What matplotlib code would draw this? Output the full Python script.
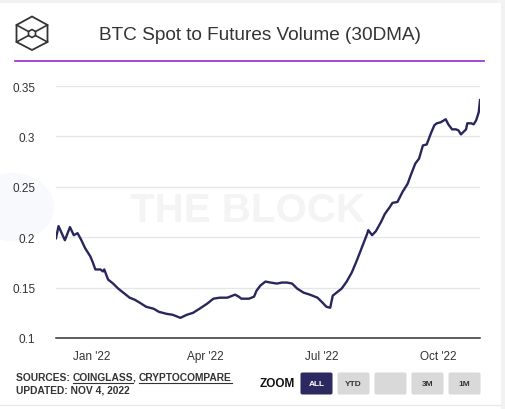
import matplotlib
matplotlib.use('Agg')
import matplotlib.pyplot as plt
import pandas as pd
from matplotlib.patches import Rectangle, FancyBboxPatch, Circle, Polygon
from matplotlib.lines import Line2D

# ---------------- data ----------------
dates = [
    '2021-12-04', '2021-12-06', '2021-12-11', '2021-12-15', '2021-12-18', '2021-12-21',
    '2021-12-24', '2021-12-27', '2021-12-29', '2021-12-31', '2022-01-02', '2022-01-04',
    '2022-01-08', '2022-01-10', '2022-01-11', '2022-01-14', '2022-01-18', '2022-01-22',
    '2022-01-27', '2022-01-31', '2022-02-04', '2022-02-08', '2022-02-13', '2022-02-19',
    '2022-02-23', '2022-03-01', '2022-03-06', '2022-03-12', '2022-03-17', '2022-03-22',
    '2022-03-27', '2022-04-02', '2022-04-07', '2022-04-12', '2022-04-18', '2022-04-20',
    '2022-04-24', '2022-04-27', '2022-04-29', '2022-05-05', '2022-05-09', '2022-05-11',
    '2022-05-14', '2022-05-18', '2022-05-22', '2022-05-27', '2022-05-31', '2022-06-04',
    '2022-06-08', '2022-06-12', '2022-06-17', '2022-06-22', '2022-06-28', '2022-07-02',
    '2022-07-05', '2022-07-08', '2022-07-10', '2022-07-13', '2022-07-17', '2022-07-21',
    '2022-07-25', '2022-07-29', '2022-08-02', '2022-08-06', '2022-08-07', '2022-08-10',
    '2022-08-13', '2022-08-17', '2022-08-20', '2022-08-24', '2022-08-26', '2022-08-30',
    '2022-09-03', '2022-09-07', '2022-09-09', '2022-09-13', '2022-09-16', '2022-09-19',
    '2022-09-22', '2022-09-25', '2022-09-28', '2022-09-30', '2022-10-03', '2022-10-07',
    '2022-10-09', '2022-10-12', '2022-10-15', '2022-10-17', '2022-10-19', '2022-10-23',
    '2022-10-24', '2022-10-27', '2022-10-29', '2022-10-31', '2022-11-02', '2022-11-03',
]
values = [
    0.199, 0.211, 0.197, 0.210, 0.202, 0.204,
    0.197, 0.189, 0.185, 0.181, 0.175, 0.168,
    0.168, 0.166, 0.168, 0.158, 0.154, 0.149,
    0.144, 0.140, 0.138, 0.135, 0.131, 0.129,
    0.126, 0.124, 0.123, 0.120, 0.123, 0.125,
    0.129, 0.134, 0.139, 0.140, 0.140, 0.141,
    0.143, 0.141, 0.139, 0.139, 0.141, 0.147,
    0.152, 0.156, 0.155, 0.154, 0.155, 0.155,
    0.154, 0.149, 0.145, 0.143, 0.140, 0.135,
    0.131, 0.130, 0.142, 0.145, 0.149, 0.156,
    0.165, 0.177, 0.190, 0.203, 0.207, 0.202,
    0.206, 0.215, 0.223, 0.230, 0.234, 0.235,
    0.245, 0.253, 0.260, 0.273, 0.278, 0.291,
    0.292, 0.302, 0.311, 0.313, 0.314, 0.317,
    0.312, 0.307, 0.307, 0.306, 0.302, 0.307,
    0.313, 0.313, 0.312, 0.316, 0.324, 0.336,
]
y_ticks = [0.1, 0.15, 0.2, 0.25, 0.3, 0.35]
y_tick_labels = ['0.1', '0.15', '0.2', '0.25', '0.3', '0.35']
x_ticks = ['2022-01-01', '2022-04-01', '2022-07-01', '2022-10-01']
x_tick_labels = ["Jan '22", "Apr '22", "Jul '22", "Oct '22"]
buttons = ['ALL', 'YTD', '', '3M', '1M']
title = 'BTC Spot to Futures Volume (30DMA)'

# ---------------- figure ----------------
W, H = 506, 410
fig = plt.figure(figsize=(W / 100, H / 100), dpi=100)
fig.patch.set_facecolor('white')
FONT = 'Liberation Sans'


def fx(x):
    return x / W


def fy(y):
    return 1 - y / H


# page frame strips
fig.patches.append(Rectangle((0, fy(4)), 1, 4 / H, transform=fig.transFigure,
                             facecolor='#f2f2f2', edgecolor='none', zorder=-2))
fig.patches.append(Rectangle((fx(501), 0), 5 / W, 1, transform=fig.transFigure,
                             facecolor='#f2f2f2', edgecolor='none', zorder=-2))
fig.add_artist(Line2D([0, fx(501)], [fy(406), fy(406)], transform=fig.transFigure,
                      color='#e8e8e8', lw=1, zorder=-2))

# faint watermark blob and text
fig.patches.append(Circle((fx(12), fy(208)), 42 / W, transform=fig.transFigure,
                          facecolor='#f7f9fc', edgecolor='none', zorder=-1))
fig.text(fx(248), fy(211), 'THE BLOCK', fontsize=29, fontweight='bold',
         family=FONT, color='#f4f4f4', ha='center', va='center', zorder=-1)

# logo (cube outline)
hexpts = [(32, 17.5), (47.5, 26), (47.5, 43), (32, 51), (16.5, 43), (16.5, 26)]
fig.patches.append(Polygon([(fx(a), fy(b)) for a, b in hexpts], closed=True,
                           transform=fig.transFigure, fill=False,
                           edgecolor='#333333', lw=1.3))
inner = [(32, 30.5), (35.5, 32.5), (35.5, 36.5), (32, 38.5), (28.5, 36.5), (28.5, 32.5)]
fig.patches.append(Polygon([(fx(a), fy(b)) for a, b in inner], closed=True,
                           transform=fig.transFigure, fill=False,
                           edgecolor='#333333', lw=1.2))
for (a, b), (c, d) in [((16.5, 26), (28.5, 32.5)), ((47.5, 26), (35.5, 32.5)),
                       ((16.5, 43), (28.5, 36.5)), ((47.5, 43), (35.5, 36.5))]:
    fig.add_artist(Line2D([fx(a), fx(c)], [fy(b), fy(d)], transform=fig.transFigure,
                          color='#333333', lw=1.2))

# title and purple rule
fig.text(fx(259.5), fy(36), title, fontsize=13.7, family=FONT, color='#333333',
         ha='center', va='center')
fig.add_artist(Line2D([fx(15), fx(484)], [fy(62), fy(62)], transform=fig.transFigure,
                      color='#9b27c9', lw=1.2))

# ---------------- axes ----------------
ax = fig.add_axes([fx(56), fy(339), (480 - 56) / W, (339 - 87) / H])
ax.set_facecolor('none')
x = pd.to_datetime(dates)
ax.plot(x, values, color='#29265c', lw=1.7, solid_joinstyle='round', zorder=3)
ax.set_xlim(x[0], x[-1])
ax.set_ylim(0.1, 0.35)
ax.set_yticks(y_ticks)
ax.set_yticklabels(y_tick_labels)
ax.set_xticks(pd.to_datetime(x_ticks))
ax.set_xticklabels(x_tick_labels)
ax.grid(axis='y', color='#e6e6e6', lw=1)
ax.set_axisbelow(True)
for s in ['top', 'right', 'left']:
    ax.spines[s].set_visible(False)
ax.spines['bottom'].set_color('#333333')
ax.spines['bottom'].set_linewidth(1.1)
ax.tick_params(axis='y', length=0, pad=15, labelsize=8.5, labelcolor='#333333')
ax.tick_params(axis='x', length=0, pad=9, labelsize=8.5, labelcolor='#333333')
for lab in ax.get_xticklabels() + ax.get_yticklabels():
    lab.set_family(FONT)

# ---------------- footer ----------------
fig.canvas.draw()
renderer = fig.canvas.get_renderer()
xpos = 16
parts = [('SOURCES: ', False), ('COINGLASS', True), (', ', False), ('CRYPTOCOMPARE', True)]
for txt, ul in parts:
    t = fig.text(fx(xpos), fy(378), txt, fontsize=7.4, fontweight='bold', family=FONT,
                 color='#333333', ha='left', va='center')
    bb = t.get_window_extent(renderer)
    if ul:
        fig.add_artist(Line2D([fx(bb.x0), fx(bb.x1)], [fy(383.5), fy(383.5)],
                              transform=fig.transFigure, color='#333333', lw=0.8))
    xpos = bb.x1
fig.text(fx(16), fy(391), 'UPDATED: NOV 4, 2022', fontsize=7.4, fontweight='bold',
         family=FONT, color='#333333', ha='left', va='center')

fig.text(fx(260), fy(384), 'ZOOM', fontsize=8.5, fontweight='bold', family=FONT,
         color='#111111', ha='left', va='center')
for i, b in enumerate(buttons):
    x0 = 300.5 + i * 37
    active = (i == 0)
    fig.patches.append(FancyBboxPatch((fx(x0), fy(395.5)), 32 / W, 22 / H,
                                      boxstyle='round,pad=0,rounding_size=0.004',
                                      transform=fig.transFigure,
                                      facecolor='#2b2960' if active else '#d9d9d9',
                                      edgecolor='none'))
    if b:
        fig.text(fx(x0 + 16), fy(384.5), b, fontsize=6, fontweight='bold', family=FONT,
                 color='white' if active else '#333333', ha='center', va='center')

fig.savefig('out.png', dpi=100, facecolor='white')
